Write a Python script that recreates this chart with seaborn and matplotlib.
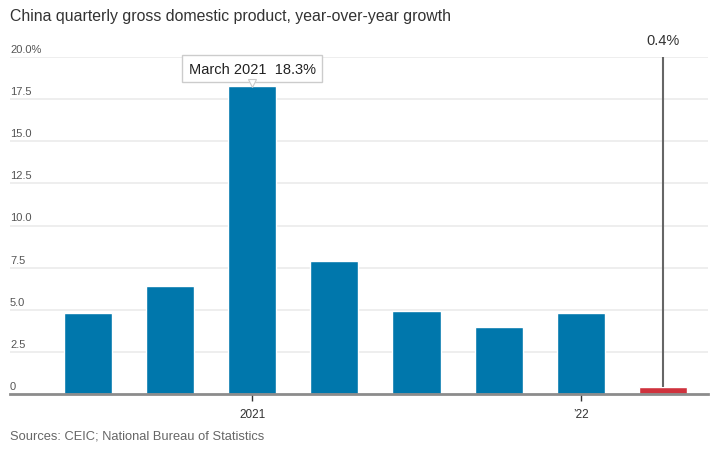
import matplotlib
matplotlib.use("Agg")
import matplotlib.pyplot as plt
import seaborn as sns
import pandas as pd
import matplotlib.transforms as mtransforms

quarters = ["Sep 2020", "Dec 2020", "Mar 2021", "Jun 2021",
            "Sep 2021", "Dec 2021", "Mar 2022", "Jun 2022"]
growth = [4.8, 6.4, 18.3, 7.9, 4.9, 4.0, 4.8, 0.4]
highlight = ["past", "past", "past", "past", "past", "past", "past", "latest"]
ytick_values = [0, 2.5, 5.0, 7.5, 10.0, 12.5, 15.0, 17.5, 20.0]
ytick_labels = ["0", "2.5", "5.0", "7.5", "10.0", "12.5", "15.0", "17.5", "20.0%"]
xtick_positions = [2, 6]
xtick_labels = ["2021", "\u201922"]
tooltip_text = "March 2021  18.3%"
latest_label = "0.4%"
title = "China quarterly gross domestic product, year-over-year growth"
source = "Sources: CEIC; National Bureau of Statistics"

df = pd.DataFrame({"quarter": quarters, "growth": growth, "kind": highlight})

sns.set_theme(style="white")
plt.rcParams["font.family"] = ["Liberation Sans", "DejaVu Sans"]

W, H = 717, 452
fig = plt.figure(figsize=(W / 100, H / 100), dpi=100)
ax = fig.add_axes([10 / W, 1 - 395 / H, (708 - 10) / W, (395 - 58) / H])

sns.barplot(data=df, x="quarter", y="growth", hue="kind",
            palette={"past": "#0077ac", "latest": "#cf323d"},
            dodge=False, width=0.585, legend=False, ax=ax, saturation=1)

ax.set_xlim(-0.95, 7.55)
ax.set_ylim(0, 20)
ax.set_xlabel("")
ax.set_ylabel("")

# gridlines
for v in ytick_values[1:]:
    ax.axhline(v, color="#ebebeb", lw=1.2, zorder=0)
ax.set_yticks([])
for sp in ["left", "right", "top"]:
    ax.spines[sp].set_visible(False)
ax.spines["bottom"].set_color("#8c8c8c")
ax.spines["bottom"].set_linewidth(2)

# y labels above gridlines at left
trans = mtransforms.blended_transform_factory(ax.transAxes, ax.transData)
offset = mtransforms.ScaledTranslation(0, 3 / 100, fig.dpi_scale_trans)
for v, lab in zip(ytick_values, ytick_labels):
    ax.text(0.0, v, lab, transform=trans + offset, ha="left", va="bottom",
            fontsize=8, color="#555555")

ax.set_xticks(xtick_positions)
ax.set_xticklabels(xtick_labels, fontsize=8.5, color="#333333")
ax.tick_params(axis="x", length=5, width=1, color="#333333", pad=5, bottom=True)

# tooltip
ax.text(2, 19.3, tooltip_text, ha="center", va="center", fontsize=10.5, color="#222222",
        zorder=6,
        bbox=dict(boxstyle="square,pad=0.45", fc="white", ec="#cccccc", lw=1))
ax.plot([2], [18.45], marker="v", ms=6, color="white", mec="#cccccc",
        mew=0.8, zorder=7, clip_on=False)

# latest vertical line
ax.vlines(7, growth[7], 20, color="#666666", lw=1.5, zorder=4)
ax.text(7, 20, latest_label,
        transform=ax.transData + mtransforms.ScaledTranslation(0, 10 / 100, fig.dpi_scale_trans),
        ha="center", va="bottom", fontsize=10.5, color="#333333")

fig.text(10 / W, 1 - 16 / H, title, ha="left", va="center", fontsize=11.4, color="#333333")
fig.text(10 / W, 1 - 437 / H, source, ha="left", va="center", fontsize=9.3, color="#666666")

fig.savefig("out.png", dpi=100)
